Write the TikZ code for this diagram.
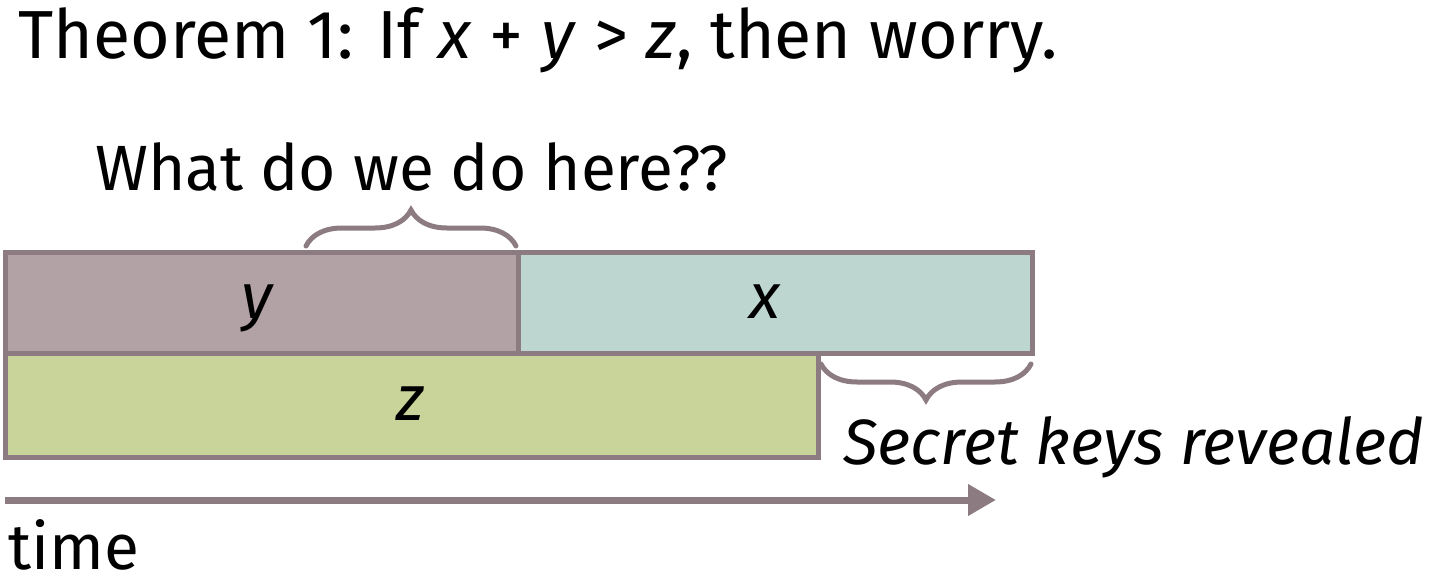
\documentclass[tikz,border=0pt]{standalone}
\usepackage{fontspec}
\setmainfont{Fira Sans}
\usetikzlibrary{decorations.pathreplacing,arrows.meta}

\definecolor{edge}{HTML}{8C7B80}
\definecolor{yfill}{HTML}{B3A2A5}
\definecolor{xfill}{HTML}{BDD6CF}
\definecolor{zfill}{HTML}{C9D49A}

\tikzset{
    box/.style={draw=edge, line width=2.5pt},
    curly/.style={draw=edge, line width=2.5pt, line cap=round,
        decorate, decoration={brace, amplitude=18pt}},
    txt/.style={inner sep=0pt, anchor=base west, font=\fontsize{32}{38}\selectfont}
}

\begin{document}
\begin{tikzpicture}[x=0.5pt, y=-0.5pt]
    \useasboundingbox (0,0) rectangle (1430,578);

    
    \node[txt, font=\fontsize{34}{40}\selectfont] (title) at (18,58) {Theorem 1: If \textit{x} + \textit{y} > \textit{z}, then worry.};

    
    \draw[box, fill=yfill] (5,252) rectangle (518,353);
    \draw[box, fill=xfill] (518,252) rectangle (1032,353);
    \draw[box, fill=zfill] (5,353) rectangle (818,457);
    \node[txt, anchor=base] (ylab) at (258,318) {\textit{y}};
    \node[txt, anchor=base] (xlab) at (765,318) {\textit{x}};
    \node[txt, anchor=base] (zlab) at (410,420) {\textit{z}};

    
    \coordinate (ba) at (306,246);
    \coordinate (bb) at (516,246);
    \draw[curly] (ba) -- (bb);
    \node[txt] (ask) at (95,190) {What do we do here??};

    
    \coordinate (ca) at (1031,364);
    \coordinate (cb) at (821,364);
    \draw[curly] (ca) -- (cb);
    \node[txt] (keys) at (843,464) {\textit{Secret keys revealed}};

    
    \coordinate (t0) at (5,500);
    \coordinate (t1) at (996,500);
    \draw[edge, line width=3.5pt, -{Triangle[length=14pt, width=15pt]}] (t0) -- (t1);
    \node[txt] (time) at (8,569) {time};
\end{tikzpicture}
\end{document}
